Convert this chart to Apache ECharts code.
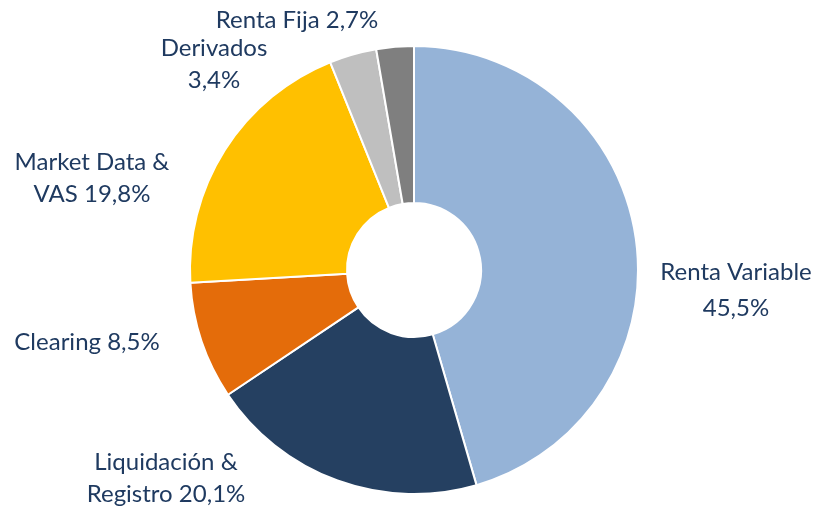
<!DOCTYPE html>
<html>
<head>
<meta charset="utf-8">
<script src="https://cdn.jsdelivr.net/npm/echarts@6/dist/echarts.min.js"></script>
<style>html,body{margin:0;padding:0;background:#fff}#c{width:818px;height:509px}</style>
</head>
<body>
<div id="c"></div>
<script>
const categories = ['Renta Variable', 'Liquidación &\nRegistro', 'Clearing', 'Market Data &\nVAS', 'Derivados', 'Renta Fija'];
const values = [45.5, 20.1, 8.5, 19.8, 3.4, 2.7];
const colors = ['#95B3D7', '#254061', '#E46C0A', '#FFC000', '#BFBFBF', '#7F7F7F'];
const labelSep = ['\n', ' ', ' ', ' ', '\n', ' '];
// label centre positions (layout only)
const labelPos = [[736, 290], [166, 478], [87, 342], [92, 178], [214, 64], [297, 20]];
const labelLineHeight = [36, 32, 32, 32, 32, 32];

const chart = echarts.init(document.getElementById('c'), null, {renderer: 'canvas'});
chart.setOption({
  animation: false,
  series: [{
    type: 'pie',
    center: [414, 270],
    radius: [67, 224],
    startAngle: 90,
    clockwise: true,
    avoidLabelOverlap: false,
    itemStyle: {borderColor: '#fff', borderWidth: 2},
    label: {
      show: true,
      position: 'outside',
      color: '#1F3A60',
      fontFamily: 'Lato',
      fontSize: 24,
      lineHeight: 32,
      align: 'center',
      formatter: p => p.name + labelSep[p.dataIndex] + p.value.toFixed(1).replace('.', ',') + '%'
    },
    labelLine: {show: false},
    labelLayout: p => ({
      x: labelPos[p.dataIndex][0],
      y: labelPos[p.dataIndex][1],
      align: 'center',
      verticalAlign: 'middle',
      hideOverlap: false
    }),
    data: categories.map((n, i) => ({
      name: n,
      value: values[i],
      itemStyle: {color: colors[i]},
      label: {lineHeight: labelLineHeight[i]}
    }))
  }]
});
</script>
</body>
</html>
